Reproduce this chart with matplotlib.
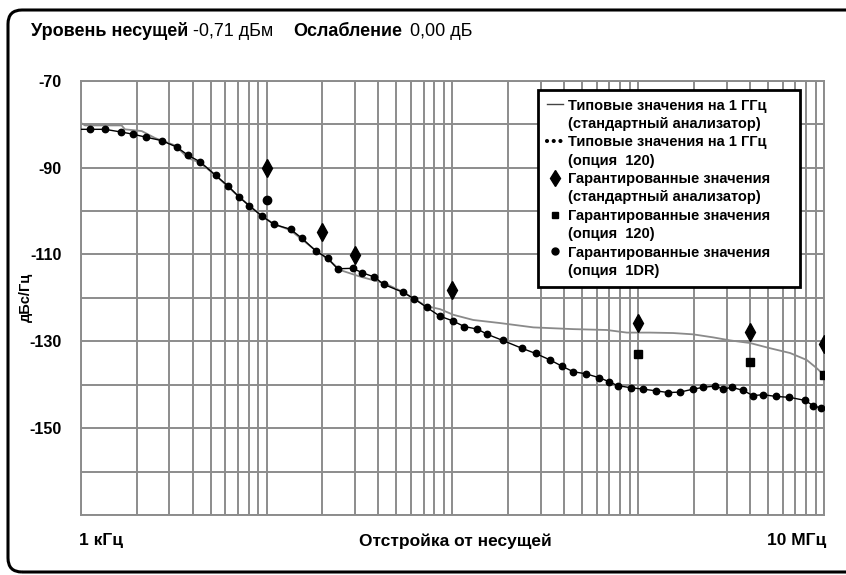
import numpy as np
import matplotlib
matplotlib.use('Agg')
import matplotlib.pyplot as plt
from matplotlib.lines import Line2D
from matplotlib.patches import FancyBboxPatch
from matplotlib.ticker import LogLocator, NullFormatter

plt.rcParams['font.family'] = ['Liberation Sans', 'DejaVu Sans']

# typical values at 1 GHz, standard analyzer (gray trace)
std_freq = [1000, 1055, 1400, 1660, 1730, 2130, 2510, 3220, 3780, 4390,
            5320, 7130, 9400, 10970, 13400, 18300, 21980, 24880, 31850, 42880,
            54080, 72150, 85900, 101200, 129700, 180300, 272900, 448000, 677800, 868900,
            1.159e6, 1.541e6, 1.974e6, 2.530e6, 3.124e6, 4.0e6, 5.126e6, 6.566e6, 8.07e6, 9.14e6,
            9.84e6]
std_level = [-79.7, -80.3, -80.3, -80.3, -81.2, -81.6, -83.2, -84.9, -87.8, -88.9,
             -91.8, -96.8, -101.1, -103.0, -104.4, -109.0, -111.5, -113.6, -115.1, -116.6,
             -118.6, -121.9, -122.6, -123.9, -125.1, -125.8, -126.8, -127.2, -127.4, -128.0,
             -128.0, -128.1, -128.4, -129.1, -129.8, -130.4, -131.6, -132.7, -134.3, -136.2,
             -137.5]

# typical values at 1 GHz, option 120 (dotted trace)
opt_freq = [1000, 1120, 1350, 1640, 1900, 2240, 2730, 3290, 3790, 4400, 5320,
            6190, 7130, 8070, 9400, 10970, 13460, 15530, 18400, 21340, 24100,
            29100, 32660, 38020, 42740, 54080, 62230, 72810, 85540, 100500, 115900,
            136400, 154300, 186600, 236400, 280500, 335700, 387300, 446700, 524800, 618000,
            697000, 774500, 914100, 1.059e6, 1.241e6, 1.449e6, 1.680e6, 1.982e6, 2.244e6, 2.584e6,
            2.875e6, 3.190e6, 3.670e6, 4.140e6, 4.721e6, 5.521e6, 6.516e6, 7.887e6, 8.730e6, 9.640e6]
opt_level = [-81.2, -81.2, -81.2, -81.8, -82.3, -83.0, -83.8, -85.3, -87.2, -88.7, -91.8,
             -94.2, -96.8, -98.8, -101.1, -103.1, -104.2, -106.3, -109.2, -110.9, -113.3,
             -113.2, -114.2, -115.2, -116.9, -118.7, -120.2, -122.2, -124.2, -125.3, -126.6,
             -127.2, -128.4, -129.8, -131.6, -132.8, -134.3, -135.7, -137.0, -137.5, -138.4,
             -139.3, -140.2, -140.7, -141.0, -141.4, -141.8, -141.7, -141.0, -140.6, -140.3,
             -141.0, -140.6, -141.3, -142.5, -142.3, -142.7, -142.9, -143.6, -144.8, -145.4]

# guaranteed values
spec_std_freq = [10e3, 20e3, 30e3, 100e3, 1e6, 4e6, 10e6]
spec_std = [-90.1, -104.8, -110.1, -118.3, -125.7, -127.8, -130.7]
spec_120_freq = [1e6, 4e6, 10e6]
spec_120 = [-132.9, -134.8, -137.7]
spec_1dr_freq = [10e3]
spec_1dr = [-97.5]

y_ticks = [-170, -160, -150, -140, -130, -120, -110, -100, -90, -80, -70]
y_labels = ['', '', '-150', '', '-130', '', '-110', '', '-90', '', '-70']

legend_labels = ['Типовые значения на 1 ГГц', '(стандартный анализатор)',
                 'Типовые значения на 1 ГГц', '(опция  120)',
                 'Гарантированные значения', '(стандартный анализатор)',
                 'Гарантированные значения', '(опция  120)',
                 'Гарантированные значения', '(опция  1DR)']

fig = plt.figure(figsize=(8.46, 5.75), dpi=100)
ax = fig.add_axes([0.0954, 0.1043, 0.8786, 0.7554])

grid_c = '#8c8c8c'
ax.set_xscale('log')
ax.set_xlim(1e3, 1e7)
ax.set_ylim(-170, -70)
ax.xaxis.set_major_locator(LogLocator(base=10, subs=np.arange(1, 10), numticks=50))
ax.xaxis.set_minor_locator(LogLocator(base=10, subs=np.arange(1, 10), numticks=50))
ax.xaxis.set_major_formatter(NullFormatter())
ax.xaxis.set_minor_formatter(NullFormatter())
ax.set_yticks(y_ticks)
ax.set_yticklabels(y_labels, fontsize=11.5, fontweight='bold')
ax.tick_params(axis='both', which='both', length=0, pad=14)
ax.grid(True, which='both', color=grid_c, lw=1.4)
for s in ax.spines.values():
    s.set_color(grid_c)
    s.set_linewidth(1.4)

ax.plot(std_freq, std_level, color='#8a8a8a', lw=1.3, zorder=3)
ax.plot(opt_freq, opt_level, color='black', lw=1.0, marker='o', ms=4.6,
        markevery=slice(1, None), zorder=4)
ax.plot(spec_std_freq, spec_std, ls='none', marker='d', ms=9, color='black', zorder=5)
ax.plot(spec_120_freq, spec_120, ls='none', marker='s', ms=6, color='black', zorder=5)
ax.plot(spec_1dr_freq, spec_1dr, ls='none', marker='o', ms=6, color='black', zorder=5)

blank = Line2D([], [], ls='none')
handles = [Line2D([], [], color='#444444', lw=1.0), blank,
           Line2D([], [], color='black', lw=3, ls=(0, (0.01, 1.6)), dash_capstyle='round'), blank,
           Line2D([], [], ls='none', marker='d', color='black', ms=8), blank,
           Line2D([], [], ls='none', marker='s', color='black', ms=5), blank,
           Line2D([], [], ls='none', marker='o', color='black', ms=5), blank]
leg = ax.legend(handles, legend_labels, loc='upper left', bbox_to_anchor=(0.615, 0.979, 0.353, 0),
                mode='expand', borderaxespad=0,
                frameon=True, fancybox=False, edgecolor='black', framealpha=1,
                prop=dict(weight='bold', size=10.5),
                handlelength=1.1, handletextpad=0.4, labelspacing=0.3, borderpad=0.6)
leg.get_frame().set_linewidth(2)
leg.set_zorder(10)

ax.set_ylabel('дБс/Гц', fontsize=10.5, fontweight='bold')
ax.yaxis.set_label_coords(-0.064, 0.5)

# axis captions
cy = 1 - 541 / 575
fig.text(79 / 846, cy, '1 кГц', fontsize=12.5, fontweight='bold', ha='left', va='center')
fig.text(455 / 846, cy, 'Отстройка от несущей', fontsize=12.5, fontweight='bold',
         ha='center', va='center')
fig.text(826 / 846, cy, '10 МГц', fontsize=12.5, fontweight='bold', ha='right', va='center')

# header
ty = 1 - 31 / 575
fig.text(31 / 846, ty, 'Уровень несущей', fontsize=13, fontweight='bold', va='center')
fig.text(193 / 846, ty, '-0,71 дБм', fontsize=13, va='center')
fig.text(293 / 846, ty, 'Ослабление', fontsize=13, fontweight='bold', va='center')
fig.text(410 / 846, ty, '0,00 дБ', fontsize=13, va='center')

# rounded frame
frame = FancyBboxPatch((0.08, 0.03), 9.0, 5.62, boxstyle='round,pad=0,rounding_size=0.14',
                       transform=fig.dpi_scale_trans, fill=False, ec='black', lw=2.2)
fig.add_artist(frame)

fig.savefig('out.png', dpi=100)
